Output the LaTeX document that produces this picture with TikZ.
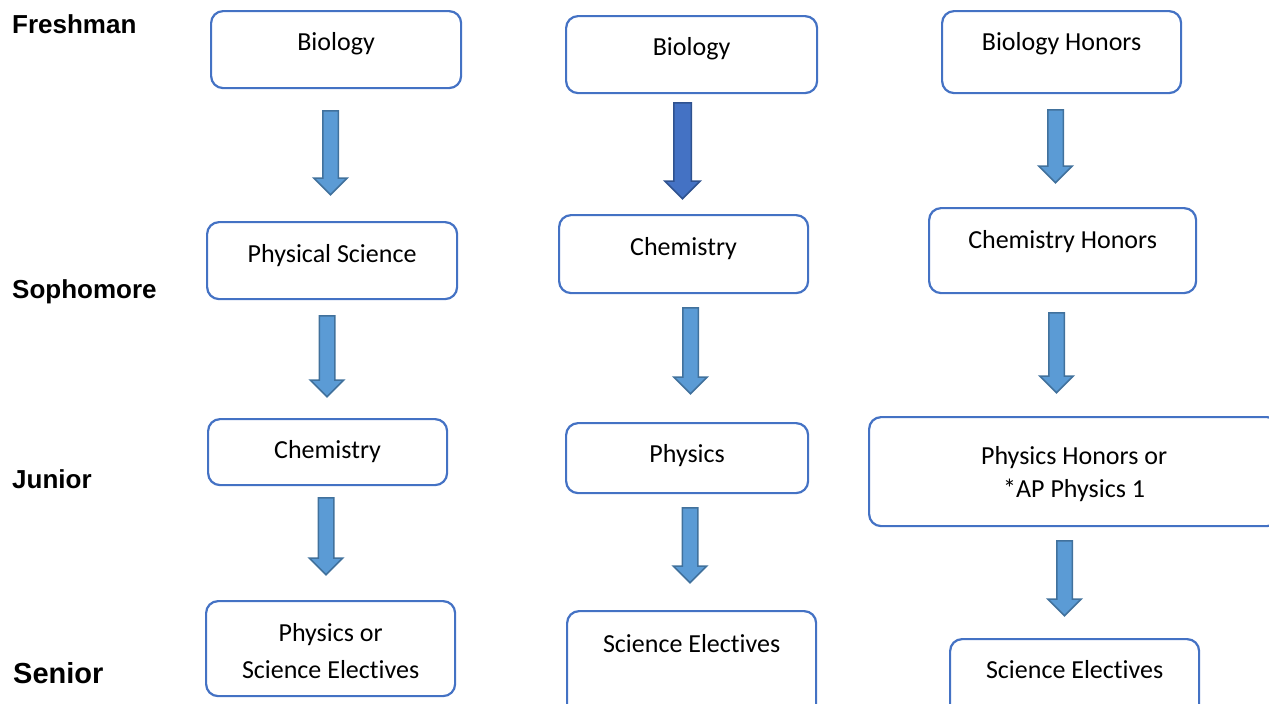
\documentclass[tikz,border=0pt]{standalone}
\usepackage{fontspec}
\setmainfont{Carlito}[Ligatures=NoCommon]
\newfontfamily\yearfont{Liberation Sans}
\usetikzlibrary{positioning,shapes.arrows}
\definecolor{boxblue}{HTML}{4472C4}
\definecolor{arrowfill}{HTML}{5B9BD5}
\definecolor{arrowline}{HTML}{41719C}
\definecolor{darkline}{HTML}{2F528F}
\tikzset{
        course/.style={draw=boxblue, line width=2.2pt, rounded corners=12pt, anchor=north west, inner sep=0pt},
        coursetext/.style={anchor=base, inner sep=0pt, align=center, font=\fontsize{26}{37}\selectfont},
        year/.style={anchor=base west, inner sep=0pt, font=\yearfont\bfseries\fontsize{26}{30}\selectfont},
        down/.style={single arrow, draw=arrowline, fill=arrowfill, line width=1.5pt, rotate=-90, anchor=tail,
          inner xsep=0pt, inner ysep=7pt, single arrow head extend=9pt, minimum height=#1},
        downdark/.style={down=#1, draw=darkline, fill=boxblue, inner ysep=8pt}
          }

\begin{document}
\begin{tikzpicture}[x=1pt, y=-1pt]
        \useasboundingbox (0,0) rectangle (1269,704);
        \node[year] (fresh) at (12,34) {Freshman};
        \node[year] (soph) at (12,298) {Sophomore};
        \node[year] (jun) at (12,488) {Junior};
        \node[year, font=\yearfont\bfseries\fontsize{29}{34}\selectfont] (sen) at (13,683) {Senior};

        \node[course, minimum width=250pt, minimum height=77pt] (bioA) at (210,10) {};
        \node[course, minimum width=250pt, minimum height=77pt] (physA) at (206,221) {};
        \node[course, minimum width=239pt, minimum height=66pt] (chemA) at (207,418) {};
        \node[course, minimum width=249pt, minimum height=95pt] (elecA) at (205,600) {};
        \node[coursetext] (bioA-t) at (bioA.north |- 0,50) {Biology};
        \node[coursetext] (physA-t) at (physA.north |- 0,262) {Physical Science};
        \node[coursetext] (chemA-t) at (chemA.north |- 0,458) {Chemistry};
        \node[coursetext] (elecA-t) at (elecA.north |- 0,678) {Physics or\\Science Electives};

        \node[course, minimum width=251pt, minimum height=77pt] (bioB) at (565,15) {};
        \node[course, minimum width=249pt, minimum height=78pt] (chemB) at (558,214) {};
        \node[course, minimum width=242pt, minimum height=70pt] (physB) at (565,422) {};
        \node[course, minimum width=249pt, minimum height=110pt] (elecB) at (566,610) {};
        \node[coursetext] (bioB-t) at (bioB.north |- 0,55.5) {Biology};
        \node[coursetext] (chemB-t) at (chemB.north |- 0,255) {Chemistry};
        \node[coursetext] (physB-t) at (physB.north |- 0,462) {Physics};
        \node[coursetext] (elecB-t) at (elecB.north |- 0,652) {Science Electives};

        \node[course, minimum width=239pt, minimum height=82pt] (bioC) at (941,10) {};
        \node[course, minimum width=267pt, minimum height=85pt] (chemC) at (928,207) {};
        \node[course, minimum width=410pt, minimum height=109pt] (physC) at (868,416) {};
        \node[course, minimum width=249pt, minimum height=82pt] (elecC) at (949,638) {};
        \node[coursetext] (bioC-t) at (bioC.north |- 0,50) {Biology Honors};
        \node[coursetext] (chemC-t) at (chemC.north |- 0,248) {Chemistry Honors};
        \node[coursetext] (physC-t) at (physC.north |- 0,497) {Physics Honors or\\[-4pt]*AP Physics 1};
        \node[coursetext] (elecC-t) at (elecC.north |- 0,678) {Science Electives};

        \node[down=84pt] (arA1) at (330.5,110) {};
        \node[down=81pt] (arA2) at (327,315) {};
        \node[down=77pt] (arA3) at (326,497) {};
        \node[downdark=96pt] (arB1) at (682.5,102) {};
        \node[down=86pt] (arB2) at (690.5,307) {};
        \node[down=75pt] (arB3) at (690,507) {};
        \node[down=73pt] (arC1) at (1055.5,109) {};
        \node[down=80pt] (arC2) at (1056.5,312) {};
        \node[down=75pt] (arC3) at (1064.5,540) {};
\end{tikzpicture}
\end{document}
